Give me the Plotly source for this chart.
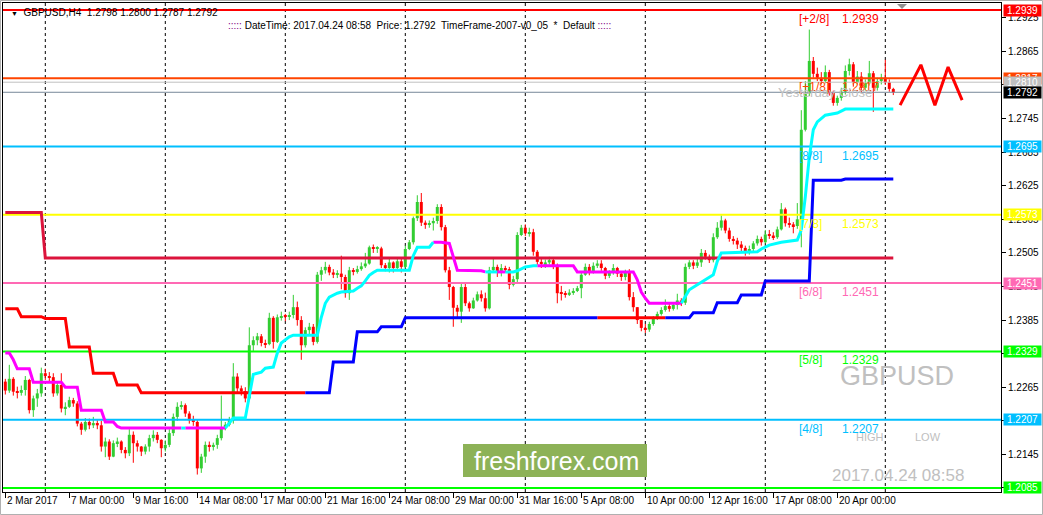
import plotly.graph_objects as go

# ---------------- data ----------------
first_open = 1.2275
close = [1.2259,1.2280,1.2257,1.2255,1.2260,1.2278,1.2224,1.2245,1.2254,1.2290,
         1.2285,1.2283,1.2254,1.2269,1.2227,1.2230,1.2242,1.2236,1.2200,1.2189,
         1.2203,1.2197,1.2201,1.2197,1.2159,1.2168,1.2141,1.2165,1.2168,1.2153,
         1.2147,1.2180,1.2165,1.2159,1.2150,1.2159,1.2174,1.2180,1.2171,1.2156,
         1.2162,1.2183,1.2212,1.2230,1.2233,1.2218,1.2206,1.2203,1.2120,1.2141,
         1.2162,1.2159,1.2162,1.2174,1.2192,1.2198,1.2206,1.2284,1.2263,1.2258,
         1.2245,1.2340,1.2349,1.2356,1.2344,1.2342,1.2389,1.2346,1.2390,1.2392,
         1.2391,1.2394,1.2408,1.2385,1.2340,1.2367,1.2373,1.2346,1.2466,1.2474,
         1.2480,1.2470,1.2466,1.2468,1.2462,1.2433,1.2474,1.2471,1.2476,1.2481,
         1.2486,1.2515,1.2512,1.2513,1.2483,1.2478,1.2488,1.2478,1.2490,1.2480,
         1.2512,1.2524,1.2567,1.2596,1.2559,1.2555,1.2558,1.2562,1.2587,1.2551,
         1.2474,1.2444,1.2407,1.2400,1.2444,1.2415,1.2406,1.2420,1.2431,1.2424,
         1.2406,1.2474,1.2480,1.2470,1.2478,1.2476,1.2448,1.2458,1.2537,1.2550,
         1.2540,1.2542,1.2507,1.2489,1.2485,1.2488,1.2492,1.2482,1.2433,1.2432,
         1.2430,1.2434,1.2437,1.2442,1.2466,1.2480,1.2470,1.2482,1.2486,1.2478,
         1.2464,1.2470,1.2478,1.2468,1.2462,1.2470,1.2426,1.2408,1.2385,1.2371,
         1.2368,1.2378,1.2388,1.2396,1.2403,1.2410,1.2405,1.2412,1.2420,1.2416,
         1.2480,1.2488,1.2482,1.2488,1.2505,1.2498,1.2492,1.2533,1.2550,1.2563,
         1.2545,1.2530,1.2527,1.2520,1.2514,1.2505,1.2512,1.2522,1.2530,1.2524,
         1.2538,1.2536,1.2533,1.2547,1.2583,1.2558,1.2556,1.2553,1.2565,1.2725,
         1.2790,1.2848,1.2825,1.2818,1.2812,1.2828,1.2791,1.2773,1.2782,1.2793,
         1.2830,1.2842,1.2810,1.2820,1.2800,1.2808,1.2826,1.2800,1.2812,1.2818,
         1.2810,1.2798,1.2792]
high = [1.2280,1.2305,1.2283,1.2266,1.2268,1.2285,1.2280,1.2250,1.2262,1.2300,
        1.2298,1.2292,1.2290,1.2275,1.2290,1.2238,1.2248,1.2246,1.2240,1.2203,
        1.2210,1.2209,1.2212,1.2206,1.2205,1.2175,1.2172,1.2170,1.2175,1.2170,
        1.2158,1.2190,1.2186,1.2170,1.2160,1.2163,1.2180,1.2188,1.2185,1.2172,
        1.2170,1.2190,1.2218,1.2238,1.2240,1.2236,1.2222,1.2214,1.2206,1.2146,
        1.2168,1.2168,1.2166,1.2180,1.2250,1.2203,1.2212,1.2308,1.2290,1.2268,
        1.2265,1.2372,1.2356,1.2362,1.2360,1.2350,1.2398,1.2392,1.2395,1.2400,
        1.2396,1.2400,1.2430,1.2418,1.2392,1.2372,1.2380,1.2378,1.2471,1.2480,
        1.2489,1.2484,1.2476,1.2474,1.2500,1.2466,1.2480,1.2478,1.2482,1.2488,
        1.2505,1.2518,1.2520,1.2517,1.2516,1.2487,1.2496,1.2490,1.2495,1.2494,
        1.2518,1.2528,1.2570,1.2608,1.2612,1.2563,1.2563,1.2568,1.2592,1.2592,
        1.2555,1.2480,1.2446,1.2412,1.2450,1.2452,1.2418,1.2425,1.2436,1.2438,
        1.2434,1.2480,1.2497,1.2484,1.2485,1.2482,1.2480,1.2464,1.2542,1.2555,
        1.2556,1.2550,1.2548,1.2510,1.2494,1.2493,1.2498,1.2494,1.2486,1.2446,
        1.2437,1.2440,1.2442,1.2446,1.2470,1.2486,1.2485,1.2488,1.2492,1.2492,
        1.2480,1.2474,1.2485,1.2480,1.2472,1.2475,1.2476,1.2435,1.2400,1.2384,
        1.2378,1.2382,1.2392,1.2400,1.2408,1.2422,1.2415,1.2417,1.2432,1.2424,
        1.2486,1.2492,1.2492,1.2494,1.2512,1.2510,1.2502,1.2540,1.2560,1.2572,
        1.2566,1.2550,1.2535,1.2532,1.2526,1.2518,1.2518,1.2526,1.2536,1.2534,
        1.2546,1.2546,1.2542,1.2552,1.2594,1.2586,1.2568,1.2560,1.2594,1.2760,
        1.2812,1.2904,1.2855,1.2836,1.2828,1.2840,1.2832,1.2795,1.2786,1.2800,
        1.2840,1.2852,1.2846,1.2830,1.2828,1.2815,1.2848,1.2830,1.2818,1.2825,
        1.2850,1.2815,1.2800]
low = [1.2252,1.2255,1.2250,1.2245,1.2250,1.2250,1.2218,1.2212,1.2230,1.2248,
       1.2278,1.2276,1.2248,1.2250,1.2220,1.2215,1.2228,1.2230,1.2195,1.2180,
       1.2186,1.2190,1.2192,1.2190,1.2150,1.2140,1.2135,1.2140,1.2158,1.2147,
       1.2138,1.2142,1.2130,1.2150,1.2142,1.2145,1.2150,1.2168,1.2165,1.2140,
       1.2150,1.2158,1.2178,1.2205,1.2225,1.2212,1.2200,1.2196,1.2109,1.2112,
       1.2130,1.2150,1.2152,1.2155,1.2170,1.2188,1.2195,1.2200,1.2255,1.2250,
       1.2238,1.2240,1.2330,1.2340,1.2338,1.2335,1.2340,1.2334,1.2344,1.2384,
       1.2383,1.2385,1.2388,1.2375,1.2314,1.2336,1.2360,1.2340,1.2343,1.2455,
       1.2468,1.2465,1.2460,1.2460,1.2440,1.2425,1.2421,1.2465,1.2468,1.2473,
       1.2478,1.2484,1.2505,1.2505,1.2478,1.2472,1.2470,1.2470,1.2475,1.2470,
       1.2478,1.2510,1.2520,1.2562,1.2553,1.2548,1.2550,1.2545,1.2557,1.2545,
       1.2470,1.2421,1.2373,1.2390,1.2380,1.2410,1.2400,1.2405,1.2418,1.2418,
       1.2400,1.2404,1.2470,1.2462,1.2463,1.2470,1.2440,1.2445,1.2450,1.2535,
       1.2535,1.2534,1.2500,1.2484,1.2478,1.2478,1.2484,1.2476,1.2415,1.2420,
       1.2425,1.2428,1.2430,1.2435,1.2424,1.2464,1.2465,1.2468,1.2478,1.2473,
       1.2458,1.2460,1.2466,1.2462,1.2455,1.2456,1.2420,1.2400,1.2378,1.2365,
       1.2362,1.2364,1.2375,1.2385,1.2393,1.2400,1.2400,1.2402,1.2404,1.2410,
       1.2412,1.2476,1.2476,1.2478,1.2480,1.2493,1.2487,1.2488,1.2530,1.2545,
       1.2540,1.2525,1.2520,1.2512,1.2508,1.2500,1.2502,1.2508,1.2518,1.2518,
       1.2522,1.2530,1.2528,1.2530,1.2545,1.2552,1.2550,1.2540,1.2548,1.2515,
       1.2722,1.2785,1.2818,1.2812,1.2806,1.2808,1.2786,1.2768,1.2768,1.2777,
       1.2788,1.2822,1.2802,1.2806,1.2792,1.2795,1.2804,1.2757,1.2795,1.2806,
       1.2805,1.2793,1.2787]

# time axis labels (bar index -> label)
xlabel_bars = [0, 16, 32, 48, 64, 80, 96, 112, 128, 144, 160, 176, 192, 208]
xlabel_text = ["2 Mar 2017", "7 Mar 00:00", "9 Mar 16:00", "14 Mar 08:00", "17 Mar 00:00",
               "21 Mar 16:00", "24 Mar 08:00", "29 Mar 00:00", "31 Mar 16:00", "5 Apr 08:00",
               "10 Apr 00:00", "12 Apr 16:00", "17 Apr 08:00", "20 Apr 00:00"]
week_start_bars = [10, 40, 70, 100, 130, 160, 190, 220]
y_ticks = [1.2925, 1.2865, 1.2805, 1.2745, 1.2685, 1.2625, 1.2565, 1.2505, 1.2445,
           1.2385, 1.2325, 1.2265, 1.2205, 1.2145, 1.2085]

# Murrey math levels
murrey_levels = [1.2939, 1.2817, 1.2695, 1.2573, 1.2451, 1.2329, 1.2207, 1.2085]
murrey_names = ["[+2/8]", "[+1/8]", "[8/8]", "[7/8]", "[6/8]", "[5/8]", "[4/8]", "[3/8]"]
murrey_colors = ["#FF0000", "#FF4500", "#00BFFF", "#FFFF00", "#FF69B4", "#00FF00", "#00BFFF", "#00FF00"]
murrey_label_shown = [1, 1, 1, 1, 1, 1, 1, 0]
yesterday_close = 1.2810
bid_price = 1.2792
header_ohlc = "1.2798 1.2800 1.2787 1.2792"

# price boxes on the right scale
box_values = [1.2939, 1.2817, 1.2810, 1.2792, 1.2695, 1.2573, 1.2451, 1.2329, 1.2207, 1.2085]
box_colors = ["#FF0000", "#FF4500", "#C0C0C0", "#000000", "#00BFFF", "#FFFF00", "#FF69B4",
              "#00FF00", "#00BFFF", "#00FF00"]

# crimson step line
crimson_x = [0, 9, 10, 222]
crimson_y = [1.2577, 1.2577, 1.2496, 1.2496]

# trend line (r = red, b = blue; colour of the segment starting at the point)
trend_x = [0, 3, 4, 9, 10, 15, 16, 21, 22, 27, 28, 33, 34, 75, 81, 82, 87, 88, 93, 94, 99, 100,
           148, 165, 171, 172, 177, 178, 183, 184, 189, 190, 201, 202, 209, 210, 222]
trend_y = [1.2405, 1.2405, 1.2391, 1.2391, 1.2388, 1.2388, 1.2337, 1.2337, 1.2290, 1.2290,
           1.2269, 1.2269, 1.2255, 1.2255, 1.2255, 1.2310, 1.2310, 1.2364, 1.2364, 1.2373,
           1.2373, 1.2389, 1.2389, 1.2389, 1.2389, 1.2398, 1.2398, 1.2416, 1.2416, 1.2430,
           1.2430, 1.2455, 1.2455, 1.2635, 1.2635, 1.2637, 1.2637]
trend_c = "rrrrrrrrrrrrrbbbbbbbbbrbbbbbbbbbbbbbb"

# trailing line (m = magenta, c = cyan)
trail_x = [0, 1, 2, 3, 6, 7, 14, 15, 18, 19, 24, 25, 27, 28, 29, 44, 45, 55, 57, 60, 61, 62, 64,
           65, 67, 68, 69, 71, 72, 78, 79, 80, 81, 83, 84, 87, 88, 89, 90, 91, 92, 93, 101, 102,
           103, 106, 107, 109, 111, 112, 113, 119, 120, 123, 125, 127, 128, 130, 132, 133, 142,
           143, 157, 158, 159, 160, 161, 169, 171, 173, 176, 177, 178, 179, 188, 189, 191, 194,
           198, 199, 200, 201, 202, 203, 205, 208, 210, 222]
trail_y = [1.2326, 1.2326, 1.2314, 1.2298, 1.2298, 1.2274, 1.2274, 1.2265, 1.2265, 1.2224,
           1.2224, 1.2203, 1.2203, 1.2195, 1.2192, 1.2192, 1.2192, 1.2192, 1.2210, 1.2210,
           1.2250, 1.2288, 1.2292, 1.2299, 1.2301, 1.2326, 1.2344, 1.2355, 1.2358, 1.2358,
           1.2390, 1.2415, 1.2426, 1.2433, 1.2435, 1.2437, 1.2442, 1.2446, 1.2455, 1.2465,
           1.2470, 1.2474, 1.2474, 1.2500, 1.2515, 1.2515, 1.2524, 1.2524, 1.2522, 1.2500,
           1.2474, 1.2473, 1.2471, 1.2471, 1.2471, 1.2471, 1.2473, 1.2480, 1.2482, 1.2482,
           1.2482, 1.2471, 1.2471, 1.2457, 1.2435, 1.2424, 1.2415, 1.2415, 1.2439, 1.2448,
           1.2462, 1.2466, 1.2490, 1.2505, 1.2507, 1.2512, 1.2519, 1.2524, 1.2528, 1.2546,
           1.2605, 1.2676, 1.2725, 1.2739, 1.2751, 1.2755, 1.2762, 1.2762]
trail_c = "mmmmmmmmmmmmmmmcmcccccccccccccccccccccccccccccmmmmmmcmcccccmmmmmmmmcccccccccccccccccccc"

# projected zigzag on the right
zz_x = [223.7, 228.9, 232.4, 235.7, 239.2]
zz_y = [1.2769, 1.2841, 1.2769, 1.2837, 1.2778]

# ---------------- layout geometry ----------------
W, H = 1043, 515
L, R, T, B = 3, 42, 3, 23
PW, PH = W - L - R, H - T - B
X_RANGE = [-0.575, 248.925]
Y_RANGE = [1.20778, 1.29515]
FONT = "Liberation Sans, Arial, sans-serif"


def pxx(px):
    return (px - L) / PW


def pxy(py):
    return 1 - (py - T) / PH


fig = go.Figure()

# ---------------- candles ----------------
n = len(close)
opens = [first_open] + close[:-1]
idx = list(range(n))
bases, heights, cols = [], [], []
wick_up_x, wick_up_y, wick_dn_x, wick_dn_y = [], [], [], []
for i in idx:
    o, c = opens[i], close[i]
    hi = max(high[i], o, c)
    lo = min(low[i], o, c)
    bull = c >= o
    bases.append(min(o, c))
    heights.append(max(abs(c - o), 0.00018))
    cols.append("#32CD32" if bull else "#FF0000")
    if bull:
        wick_up_x += [i, i, None]
        wick_up_y += [lo, hi, None]
    else:
        wick_dn_x += [i, i, None]
        wick_dn_y += [lo, hi, None]

fig.add_trace(go.Scatter(x=wick_up_x, y=wick_up_y, mode="lines",
                         line=dict(color="#32CD32", width=1), hoverinfo="skip"))
fig.add_trace(go.Scatter(x=wick_dn_x, y=wick_dn_y, mode="lines",
                         line=dict(color="#FF0000", width=1), hoverinfo="skip"))
fig.add_trace(go.Bar(x=idx, y=heights, base=bases, width=0.75,
                     marker=dict(color=cols, line=dict(width=0)), hoverinfo="skip"))

# ---------------- horizontal levels ----------------
for lv, colr in zip(murrey_levels, murrey_colors):
    fig.add_trace(go.Scatter(x=X_RANGE, y=[lv, lv], mode="lines",
                             line=dict(color=colr, width=2), hoverinfo="skip"))
fig.add_trace(go.Scatter(x=X_RANGE, y=[yesterday_close] * 2, mode="lines",
                         line=dict(color="#C0C0C0", width=1), hoverinfo="skip"))
fig.add_trace(go.Scatter(x=X_RANGE, y=[bid_price] * 2, mode="lines",
                         line=dict(color="#778899", width=1), hoverinfo="skip"))

# crimson
fig.add_trace(go.Scatter(x=crimson_x, y=crimson_y, mode="lines",
                         line=dict(color="#DC143C", width=3), hoverinfo="skip"))


def coloured_segments(xs, ys, flags, cmap, width):
    for key, colr in cmap.items():
        sx, sy = [], []
        k = 0
        while k < len(xs) - 1:
            if flags[k] == key:
                j = k
                run_x, run_y = [xs[k]], [ys[k]]
                while j < len(xs) - 1 and flags[j] == key:
                    run_x.append(xs[j + 1])
                    run_y.append(ys[j + 1])
                    j += 1
                sx += run_x + [None]
                sy += run_y + [None]
                k = j
            else:
                k += 1
        fig.add_trace(go.Scatter(x=sx, y=sy, mode="lines",
                                 line=dict(color=colr, width=width), hoverinfo="skip"))


coloured_segments(trend_x, trend_y, trend_c, {"r": "#FF0000", "b": "#0000FF"}, 3)
coloured_segments(trail_x, trail_y, trail_c, {"m": "#FF00FF", "c": "#00FFFF"}, 3)

fig.add_trace(go.Scatter(x=zz_x, y=zz_y, mode="lines",
                         line=dict(color="#FF0000", width=3), hoverinfo="skip", cliponaxis=False))

# ---------------- shapes ----------------
shapes = []
for wb in week_start_bars:
    shapes.append(dict(type="line", xref="x", yref="paper", x0=wb, x1=wb, y0=0, y1=1,
                       line=dict(color="#000000", width=1, dash="3px,3px"), layer="below"))
shapes.append(dict(type="rect", xref="paper", yref="paper",
                   x0=pxx(463), x1=pxx(647), y0=pxy(477), y1=pxy(444),
                   fillcolor="#8DB257", line=dict(width=0), layer="above"))
shapes.append(dict(type="path", xref="paper", yref="paper",
                   path=f"M {pxx(897)} {pxy(4)} L {pxx(907)} {pxy(4)} L {pxx(902)} {pxy(9)} Z",
                   fillcolor="#909090", line=dict(width=0)))
# thin window frame
shapes.append(dict(type="rect", xref="paper", yref="paper",
                   x0=pxx(0.5), x1=pxx(W - 0.5), y0=pxy(H - 0.5), y1=pxy(0.5),
                   line=dict(color="#B0B0B0", width=1), fillcolor="rgba(0,0,0,0)"))

# ---------------- annotations ----------------
ann = []
nb = "\u00a0"
ann.append(dict(xref="paper", yref="paper", x=pxx(9), y=pxy(12), xanchor="left", yanchor="middle",
                text="<span style='font-size:7px'>▼</span>" + nb * 2 + "GBPUSD,H4" + nb * 2 + header_ohlc,
                font=dict(family=FONT, size=10, color="#000000"), showarrow=False))
dots = "<span style='color:#800080'>:::::</span>"
ann.append(dict(xref="paper", yref="paper", x=pxx(226), y=pxy(25), xanchor="left", yanchor="middle",
                text=dots + nb + "DateTime:" + nb + "2017.04.24 08:58" + nb * 2 + "Price:" + nb
                + "1.2792" + nb * 2 + "TimeFrame-2007-v0_05" + nb * 2 + "*" + nb * 2 + "Default" + nb + dots,
                font=dict(family=FONT, size=10, color="#000000"), showarrow=False))

for lv, name, colr, shown in zip(murrey_levels, murrey_names, murrey_colors, murrey_label_shown):
    if not shown:
        continue
    ann.append(dict(xref="paper", yref="y", x=pxx(797), y=lv, yshift=-9, xanchor="left",
                    yanchor="middle", text=name, showarrow=False,
                    font=dict(family=FONT, size=12, color=colr)))
    ann.append(dict(xref="paper", yref="y", x=pxx(840), y=lv, yshift=-9, xanchor="left",
                    yanchor="middle", text=f"{lv:.4f}", showarrow=False,
                    font=dict(family=FONT, size=12, color=colr)))
ann.append(dict(xref="paper", yref="y", x=pxx(776), y=yesterday_close, yshift=-10, xanchor="left",
                yanchor="middle", text="Yesterday Close", showarrow=False,
                font=dict(family=FONT, size=13, color="#C0C0C0")))

ann.append(dict(xref="paper", yref="paper", x=pxx(897), y=pxy(376), xanchor="center", yanchor="middle",
                text="GBPUSD", showarrow=False, font=dict(family=FONT, size=27, color="#C0C0C0")))
ann.append(dict(xref="paper", yref="paper", x=pxx(870), y=pxy(437), xanchor="center", yanchor="middle",
                text="HIGH", showarrow=False, font=dict(family=FONT, size=11, color="#C0C0C0")))
ann.append(dict(xref="paper", yref="paper", x=pxx(928), y=pxy(437), xanchor="center", yanchor="middle",
                text="LOW", showarrow=False, font=dict(family=FONT, size=11, color="#C0C0C0")))
ann.append(dict(xref="paper", yref="paper", x=pxx(898), y=pxy(475), xanchor="center", yanchor="middle",
                text="2017.04.24 08:58", showarrow=False, font=dict(family=FONT, size=17, color="#C0C0C0")))
ann.append(dict(xref="paper", yref="paper", x=pxx(556), y=pxy(461), xanchor="center", yanchor="middle",
                text="freshforex.com", showarrow=False, font=dict(family=FONT, size=25, color="#FFFFFF")))

# time labels
for b, t in zip(xlabel_bars, xlabel_text):
    ann.append(dict(xref="x", yref="paper", x=b, y=pxy(501), xanchor="left", yanchor="middle",
                    text=t, showarrow=False, xshift=0,
                    font=dict(family=FONT, size=10, color="#000000")))

# price boxes
for v, colr in zip(box_values, box_colors):
    ann.append(dict(xref="paper", yref="y", x=1, xshift=2, y=v, xanchor="left", yanchor="middle",
                    text=f"{v:.4f}", showarrow=False, bgcolor=colr, width=37, height=11, borderpad=0,
                    align="center", font=dict(family=FONT, size=10, color="#FFFFFF")))

fig.update_layout(
    width=W, height=H, margin=dict(l=L, r=R, t=T, b=B, autoexpand=False),
    paper_bgcolor="#FFFFFF", plot_bgcolor="#FFFFFF", showlegend=False,
    barmode="overlay", hovermode=False, shapes=shapes, annotations=ann,
    xaxis=dict(range=X_RANGE, showgrid=False, zeroline=False, showline=True, linecolor="#000000",
               linewidth=1, mirror=True, ticks="outside", ticklen=5, tickcolor="#000000",
               tickvals=xlabel_bars, showticklabels=False, fixedrange=True),
    yaxis=dict(range=Y_RANGE, side="right", showgrid=False, zeroline=False, showline=True,
               linecolor="#000000", linewidth=1, mirror=True, ticks="outside", ticklen=4,
               tickcolor="#000000", tickvals=y_ticks, ticktext=[f"{v:.4f}" for v in y_ticks],
               tickfont=dict(family=FONT, size=10, color="#000000"), fixedrange=True),
)

fig.write_html("out.html", config={"displayModeBar": False},
               post_script="document.body.style.margin='0';document.body.style.padding='0';"
                           "document.documentElement.style.overflow='hidden';")
